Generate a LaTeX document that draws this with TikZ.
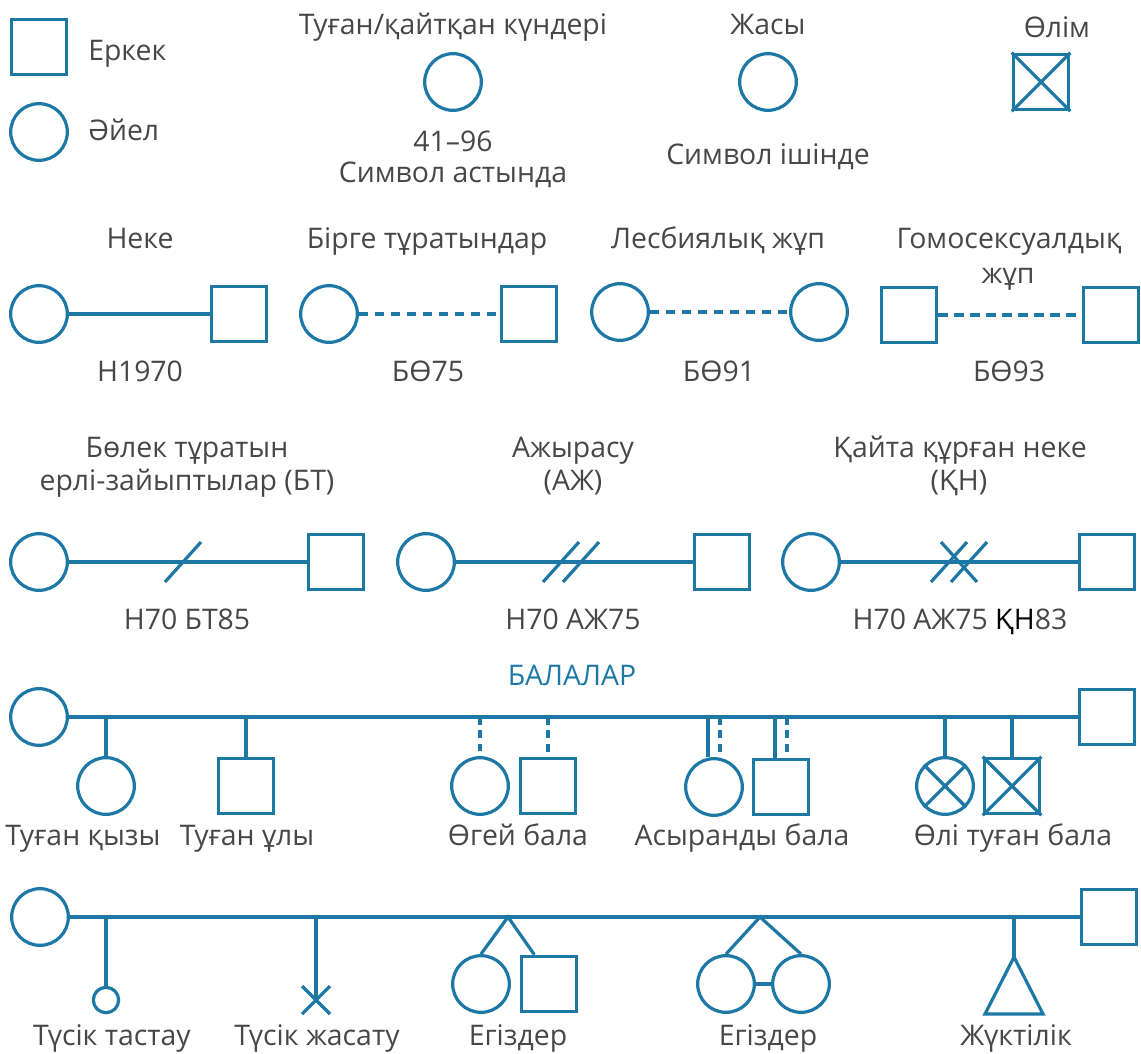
\documentclass[tikz,border=0pt]{standalone}
\usepackage{fontspec}
\setmainfont{Open Sans}
\usetikzlibrary{calc}
\definecolor{gblue}{HTML}{1E78A5}
\definecolor{gtext}{HTML}{474747}

\begin{document}
\begin{tikzpicture}[x=0.75pt, y=-0.75pt,
    every node/.style={font=\fontsize{21.3}{25}\selectfont, text=gtext},
    male/.style={rectangle, draw=gblue, line width=2.4pt, minimum size=41.5pt, inner sep=0pt},
    female/.style={circle, draw=gblue, line width=2.4pt, minimum size=42.5pt, inner sep=0pt},
    tag/.style={anchor=base, inner sep=0pt},
    link/.style={draw=gblue, line width=2.4pt},
    cohab/.style={link, dash pattern=on 7pt off 5pt},
    stepline/.style={link, dash pattern=on 6pt off 4pt}]
      \useasboundingbox (0,0) rectangle (1141,1053);

      % legend
      \node[male] (m0) at (39,47) {};
      \node[tag, anchor=base west] (t0) at (88,60) {Еркек};
      \node[female] (f0) at (39,132) {};
      \node[tag, anchor=base west] (t1) at (88,140) {Әйел};

      \node[tag] (t2) at (453,34) {Туған/қайтқан күндері};
      \node[female] (f1) at (453,82) {};
      \node[tag] (t3) at (453,151) {41–96};
      \node[tag] (t4) at (453,182) {Символ астында};

      \node[tag] (t5) at (768,34) {Жасы};
      \node[female] (f2) at (768,82) {};
      \node[tag] (t6) at (768,164) {Символ ішінде};

      \node[tag] (t7) at (1057,37) {Өлім};
      \node[male] (m2) at (1041,82) {};
      \draw[link] (m2.north west) -- (m2.south east) (m2.north east) -- (m2.south west);

      % couples
      \node[tag] (t8) at (140,248) {Неке};
      \node[female] (f3) at (39,314) {};
      \node[male] (m3) at (239,314) {};
      \node[tag] (t9) at (140,381) {Н1970};
      \draw[link] (f3) -- (m3);

      \node[tag] (t10) at (427,248) {Бірге тұратындар};
      \node[female] (f4) at (329,314) {};
      \node[male] (m4) at (529,314) {};
      \node[tag] (t11) at (428,381) {БӨ75};
      \draw[cohab] (f4) -- (m4);

      \node[tag] (t12) at (718,248) {Лесбиялық жұп};
      \node[female] (f5) at (620,312) {};
      \node[female] (f6) at (819,312) {};
      \node[tag] (t13) at (719,381) {БӨ91};
      \draw[cohab] (f5) -- (f6);

      \node[tag] (t14) at (1009,248) {Гомосексуалдық};
      \node[tag] (t15) at (1008,283) {жұп};
      \node[male] (m5) at (909,315) {};
      \node[male] (m6) at (1111,315) {};
      \node[tag] (t16) at (1009,381) {БӨ93};
      \draw[cohab] (m5) -- (m6);

      % separation, divorce, remarriage
      \node[tag] (t17) at (187,457) {Бөлек тұратын};
      \node[tag] (t18) at (187,490) {ерлі-зайыптылар (БТ)};
      \node[female] (f7) at (39,562) {};
      \node[male] (m7) at (336,562) {};
      \node[tag] (t19) at (187,629) {Н70 БТ85};
      \draw[link] (f7) -- (m7);
      \coordinate (s1) at (183,562);
      \draw[link] ([shift={(-18,20)}]s1) -- ([shift={(18,-20)}]s1);

      \node[tag] (t20) at (573,457) {Ажырасу};
      \node[tag] (t21) at (573,490) {(АЖ)};
      \node[female] (f8) at (426,562) {};
      \node[male] (m8) at (722,562) {};
      \node[tag] (t22) at (573,629) {Н70 АЖ75};
      \draw[link] (f8) -- (m8);
      \coordinate (s2) at (571,562);
      \draw[link] ([shift={(-28,20)}]s2) -- ([shift={(8,-20)}]s2);
      \draw[link] ([shift={(-8,20)}]s2) -- ([shift={(28,-20)}]s2);

      \node[tag] (t23) at (960,457) {Қайта құрған неке};
      \node[tag] (t24) at (959,490) {(ҚН)};
      \node[female] (f9) at (811,562) {};
      \node[male] (m9) at (1107,562) {};
      \node[tag] (t25) at (960,629) {Н70 АЖ75 {\color{black}ҚН}83};
      \draw[link] (f9) -- (m9);
      \coordinate (s3) at (959,562);
      \draw[link] ([shift={(-28,20)}]s3) -- ([shift={(8,-20)}]s3);
      \draw[link] ([shift={(-8,20)}]s3) -- ([shift={(28,-20)}]s3);
      \draw[link] ([shift={(-18,-20)}]s3) -- ([shift={(18,20)}]s3);

      % children
      \node[tag, text=gblue] (t26) at (572,685) {БАЛАЛАР};
      \node[female] (f10) at (39,717) {};
      \node[male] (m10) at (1107,717) {};
      \draw[link] (f10) -- (m10);

      \node[female] (d1) at (106,786) {};
      \node[male] (d2) at (246,786) {};
      \draw[link] (d1) -- (d1 |- f10);
      \draw[link] (d2) -- (d2 |- f10);
      \node[tag] (t27) at (83,845) {Туған қызы};
      \node[tag] (t28) at (247,845) {Туған ұлы};

      \node[female] (st1) at (480,786) {};
      \node[male] (st2) at (548,786) {};
      \draw[stepline] (st1 |- f10) -- ([yshift=3.5pt]st1.north);
      \draw[stepline] (st2 |- f10) -- ([yshift=3.5pt]st2.north);
      \node[tag] (t29) at (518,845) {Өгей бала};

      \node[female] (ad1) at (714,787) {};
      \node[male] (ad2) at (781,787) {};
      \draw[link] ([xshift=-4.5pt]ad1.north) -- ([xshift=-4.5pt]ad1.north |- f10);
      \draw[stepline] ([xshift=4.5pt]ad1.north |- f10) -- ([shift={(4.5pt,3.5pt)}]ad1.north);
      \draw[link] ([xshift=-4.5pt]ad2.north) -- ([xshift=-4.5pt]ad2.north |- f10);
      \draw[stepline] ([xshift=4.5pt]ad2.north |- f10) -- ([shift={(4.5pt,3.5pt)}]ad2.north);
      \node[tag] (t30) at (742,845) {Асыранды бала};

      \node[female] (sb1) at (945,786) {};
      \node[male] (sb2) at (1012,786) {};
      \draw[link] (sb1) -- (sb1 |- f10);
      \draw[link] (sb2) -- (sb2 |- f10);
      \draw[link] (sb1.north west) -- (sb1.south east) (sb1.north east) -- (sb1.south west);
      \draw[link] (sb2.north west) -- (sb2.south east) (sb2.north east) -- (sb2.south west);
      \node[tag] (t31) at (1013,845) {Өлі туған бала};

      % pregnancies
      \node[female] (f11) at (40,917) {};
      \node[male] (m11) at (1109,917) {};
      \draw[link] (f11) -- (m11);

      \node[female, minimum size=19pt] (mc) at (106,1000) {};
      \draw[link] (mc) -- (mc |- f11);
      \node[tag] (t32) at (112,1045) {Түсік тастау};

      \coordinate (ab) at (316,1000);
      \draw[link] (ab) -- (ab |- f11);
      \draw[link] ([shift={(-14,-14)}]ab) -- ([shift={(14,14)}]ab)
                  ([shift={(-14,14)}]ab) -- ([shift={(14,-14)}]ab);
      \node[tag] (t33) at (317,1045) {Түсік жасату};

      \coordinate (tw) at (508,917);
      \node[female] (tw1) at (481,984) {};
      \node[male] (tw2) at (549,984) {};
      \draw[link] (tw1.north) -- (tw) -- ([xshift=11pt]tw2.north west);
      \node[tag] (t34) at (518,1045) {Егіздер};

      \coordinate (itw) at (760,917);
      \node[female] (itw1) at (726,984) {};
      \node[female] (itw2) at (801,984) {};
      \draw[link] (itw1.north) -- (itw) -- (itw2.north);
      \draw[link] (itw1) -- (itw2);
      \node[tag] (t35) at (768,1045) {Егіздер};

      \coordinate (pg) at (1014,957);
      \draw[link] (pg) -- (pg |- f11);
      \draw[link] (pg) -- ++(-29,57) -- ++(58,0) -- cycle;
      \node[tag] (t36) at (1016,1045) {Жүктілік};
    \end{tikzpicture}
\end{document}
